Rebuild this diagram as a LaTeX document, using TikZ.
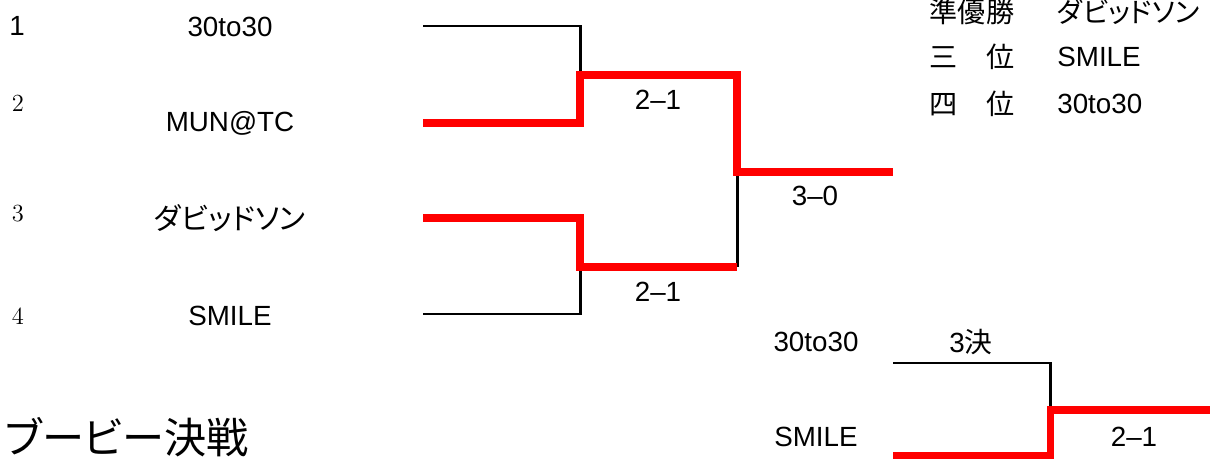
\documentclass[tikz,border=0pt]{standalone}
\usepackage{fontspec}
\newfontfamily\lat{Liberation Sans}
\newfontfamily\cjk[RawFeature=+palt]{Noto Sans CJK JP}
\usetikzlibrary{positioning}

\begin{document}
\begin{tikzpicture}[x=0.02cm,y=-0.02cm,
        team/.style={inner sep=0pt,font=\lat\fontsize{15.8}{18}\selectfont},
        seed/.style={inner sep=0pt,font=\fontsize{14}{16}\selectfont},
        rank/.style={inner sep=0pt,font=\cjk\fontsize{16}{18}\selectfont},
        won/.style={draw=red,line width=4pt},
        lost/.style={draw=black,line width=1.7pt}]
    \useasboundingbox (0,0) rectangle (1210,459);

    % Draw the seed numbers
    \node[team] (n1) at (17,26) {1};
    \foreach \y[count=\c,evaluate={\ci=int(\c+1)}] in {103, 214, 316}{
        \node[seed] (n\ci) at (18,\y) {\ci};
    }

    % Draw the team names and the line ends
    \foreach \name/\y[count=\c] in {30to30/27, MUN@TC/123, {\cjk\fontsize{16.8}{18}\selectfont ダビッドソン}/218, SMILE/316}{
        \node[team] (t\c) at (230,\y) {\name};
    }
    \foreach \y[count=\c] in {26, 123, 218, 314}{
        \coordinate (e\c) at (423,\y);
    }

    % Joins of the bracket
    \coordinate (j1) at (580,75);
    \coordinate (j2) at (580,267);
    \coordinate (j3) at (737,267);
    \coordinate (f) at (737,172);
    \coordinate (w) at (893,172);

    % Draw the lost lines, then the winners on top
    \draw[lost] (e1) -| (j1);
    \draw[lost] (e4) -| (j2);
    \draw[lost] (j3) -- (f);
    \draw[won] (e2) -| (j1) -| (f) -- (w);
    \draw[won] (e3) -| (j2) -- (j3);

    % Draw the scores
    \node[team] (s1) at (658,100) {2–1};
    \node[team] (s2) at (815,196) {3–0};
    \node[team] (s3) at (658,292) {2–1};

    % Draw the final ranking
    \foreach \rank/\name/\y[count=\c] in {準優勝/{\cjk ダビッドソン}/12, 三　位/SMILE/57, 四　位/30to30/104}{
        \node[rank] (r\c) at (972,\y) {\rank};
        \node[team,anchor=west] (p\c) at (1057,\y) {\name};
    }

    % Draw the third place match
    \node[team] (c1) at (816,342) {30to30};
    \node[team] (c2) at (816,437) {SMILE};
    \node[team] (k) at (971,342) {3{\cjk 決}};
    \coordinate (b1) at (893,363);
    \coordinate (b2) at (893,456);
    \coordinate (jb) at (1050,410);
    \coordinate (wb) at (1210,410);
    \draw[lost] (b1) -| (jb);
    \draw[won] (b2) -| (jb) -- (wb);
    \node[team] (s4) at (1134,437) {2–1};

    % Title of the consolation match
    \node[anchor=west,inner sep=0pt,font=\cjk\fontsize{24}{26}\selectfont] (title) at (5,437) {ブービー決戦};
\end{tikzpicture}
\end{document}
